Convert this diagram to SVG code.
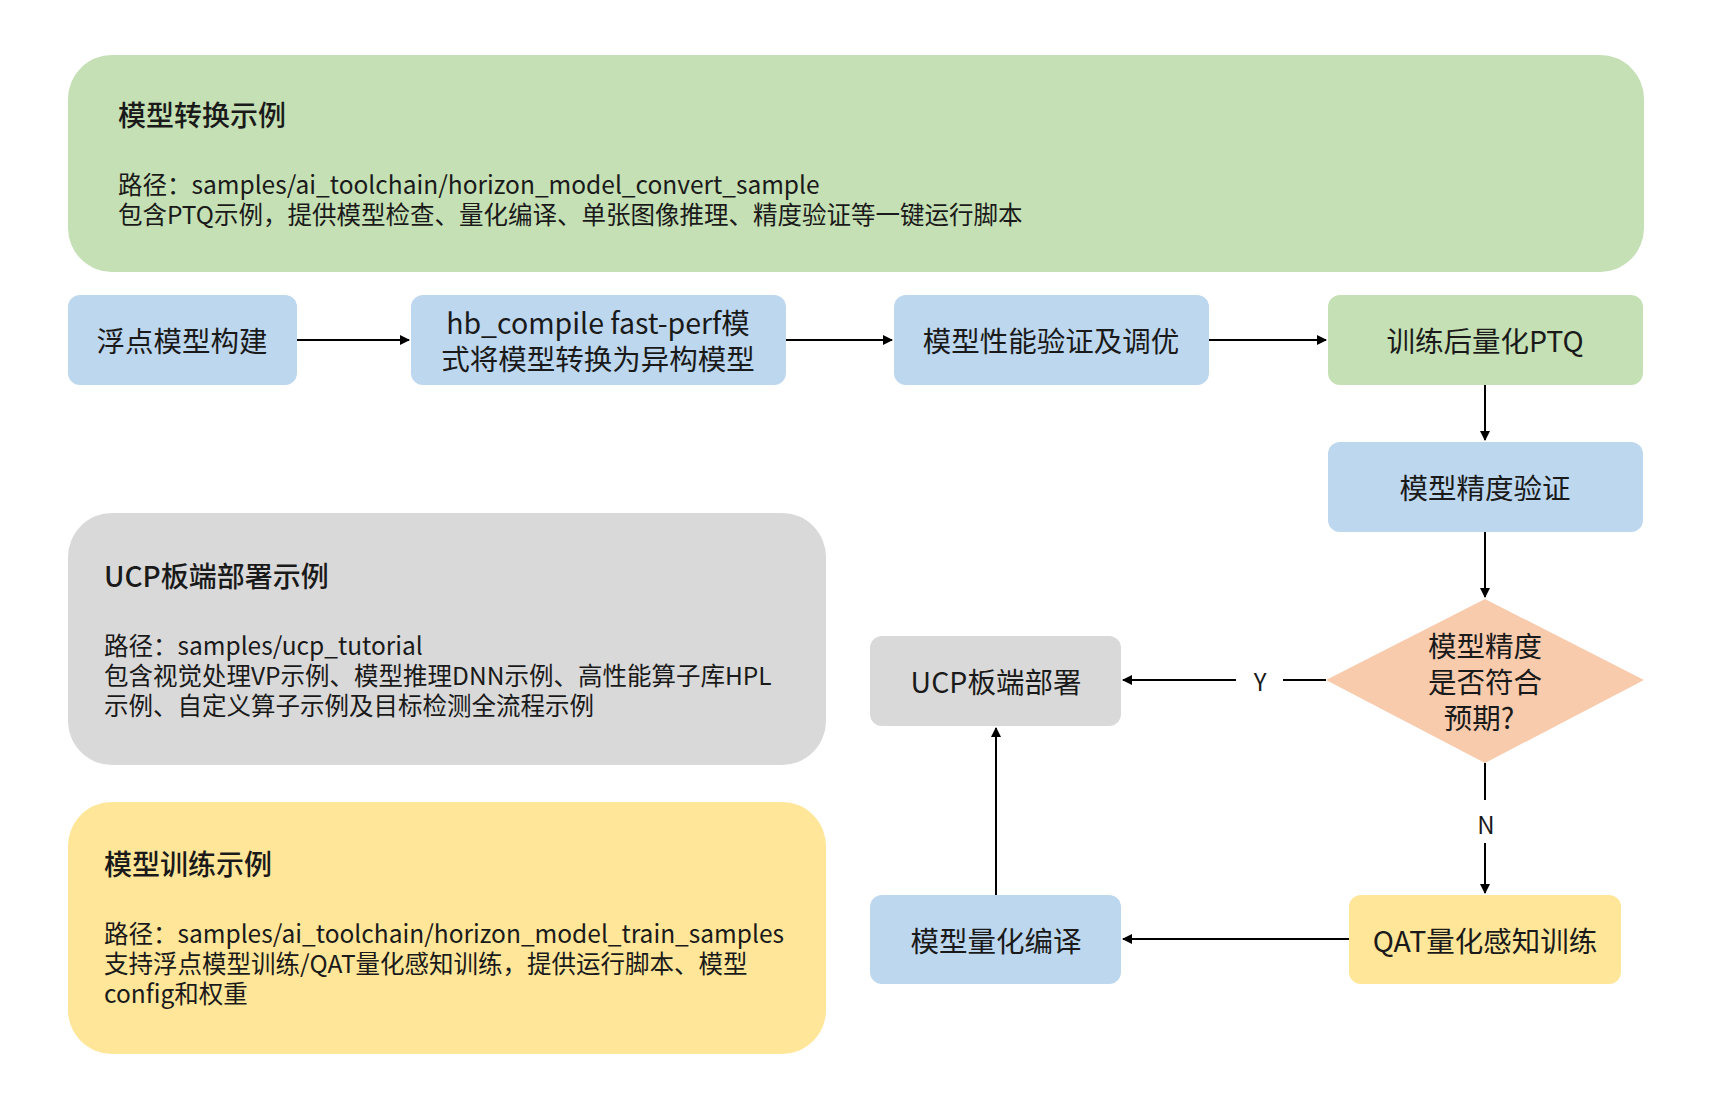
<svg xmlns="http://www.w3.org/2000/svg" width="1710" height="1107" viewBox="0 0 1710 1107">
<defs>
<marker id="ah" viewBox="0 0 10 10" refX="9" refY="5" markerWidth="10" markerHeight="10" markerUnits="userSpaceOnUse" orient="auto"><path d="M0,0 L10,5 L0,10 z" fill="#000"/></marker>
<style>
text{font-family:"Noto Sans CJK SC","Noto Sans",sans-serif;fill:#1a1a1a}
.n{font-size:28.5px;text-anchor:middle;dominant-baseline:central}
.t{font-size:28px;font-weight:500}
.d{font-size:24.5px}
.c{stroke:#000;stroke-width:2;fill:none}
.g{fill:#c5e0b4}.b{fill:#bdd7ee}.gr{fill:#d9d9d9}.y{fill:#ffe699}
</style>
</defs>
<rect width="1710" height="1107" fill="#fff"/>
<g id="convert-sample"><rect class="g" x="68" y="55" width="1576" height="217" rx="44"/>
<text class="t" x="118" y="126">模型转换示例</text>
<text class="d" x="118" y="194">路径：samples/ai_toolchain/horizon_model_convert_sample</text>
<text class="d" x="118" y="224">包含PTQ示例，提供模型检查、量化编译、单张图像推理、精度验证等一键运行脚本</text></g>
<g id="ucp-sample"><rect class="gr" x="68" y="513" width="758" height="252" rx="44"/>
<text class="t" x="104" y="587">UCP板端部署示例</text>
<text class="d" x="104" y="655">路径：samples/ucp_tutorial</text>
<text class="d" x="104" y="685">包含视觉处理VP示例、模型推理DNN示例、高性能算子库HPL</text>
<text class="d" x="104" y="715">示例、自定义算子示例及目标检测全流程示例</text></g>
<g id="train-sample"><rect class="y" x="68" y="802" width="758" height="252" rx="44"/>
<text class="t" x="104" y="875">模型训练示例</text>
<text class="d" x="104" y="943">路径：samples/ai_toolchain/horizon_model_train_samples</text>
<text class="d" x="104" y="973">支持浮点模型训练/QAT量化感知训练，提供运行脚本、模型</text>
<text class="d" x="104" y="1003">config和权重</text></g>
<g id="float"><rect class="b" x="68" y="295" width="229" height="90" rx="12"/><text class="n" x="182" y="339">浮点模型构建</text></g>
<g id="compile"><rect class="b" x="411" y="295" width="375" height="90" rx="12"/><text class="n" x="598" y="321">hb_compile fast-perf模</text><text class="n" x="598" y="357">式将模型转换为异构模型</text></g>
<g id="perf"><rect class="b" x="894" y="295" width="315" height="90" rx="12"/><text class="n" x="1051" y="339">模型性能验证及调优</text></g>
<g id="ptq"><rect class="g" x="1328" y="295" width="315" height="90" rx="12"/><text class="n" x="1485" y="339">训练后量化PTQ</text></g>
<g id="acc"><rect class="b" x="1328" y="442" width="315" height="90" rx="12"/><text class="n" x="1485" y="486">模型精度验证</text></g>
<g id="decision"><polygon points="1485,599 1644,680 1485,763 1326,680" fill="#f8cbad"/>
<text class="n" x="1485" y="644">模型精度</text><text class="n" x="1485" y="680">是否符合</text><text class="n" x="1479" y="716">预期?</text></g>
<g id="ucp"><rect class="gr" x="870" y="636" width="251" height="90" rx="12"/><text class="n" x="996" y="680">UCP板端部署</text></g>
<g id="quant"><rect class="b" x="870" y="895" width="251" height="89" rx="12"/><text class="n" x="996" y="939">模型量化编译</text></g>
<g id="qat"><rect class="y" x="1349" y="895" width="272" height="89" rx="12"/><text class="n" x="1485" y="939">QAT量化感知训练</text></g>
<g id="connectors">
<line class="c" x1="297" y1="340" x2="409" y2="340" marker-end="url(#ah)"/>
<line class="c" x1="786" y1="340" x2="892" y2="340" marker-end="url(#ah)"/>
<line class="c" x1="1209" y1="340" x2="1326" y2="340" marker-end="url(#ah)"/>
<line class="c" x1="1485" y1="385" x2="1485" y2="440" marker-end="url(#ah)"/>
<line class="c" x1="1485" y1="532" x2="1485" y2="597" marker-end="url(#ah)"/>
<line class="c" x1="1326" y1="680" x2="1283" y2="680" stroke-width="3"/>
<line class="c" x1="1236" y1="680" x2="1123" y2="680" marker-end="url(#ah)"/>
<text x="1260" y="680" font-size="24" text-anchor="middle" dominant-baseline="central">Y</text>
<line class="c" x1="1485" y1="763" x2="1485" y2="800" stroke-width="3"/>
<text x="1486" y="823" font-size="24" text-anchor="middle" dominant-baseline="central">N</text>
<line class="c" x1="1485" y1="843" x2="1485" y2="893" marker-end="url(#ah)"/>
<line class="c" x1="1349" y1="939" x2="1123" y2="939" marker-end="url(#ah)"/>
<line class="c" x1="996" y1="895" x2="996" y2="728" marker-end="url(#ah)"/>
</g>
</svg>
